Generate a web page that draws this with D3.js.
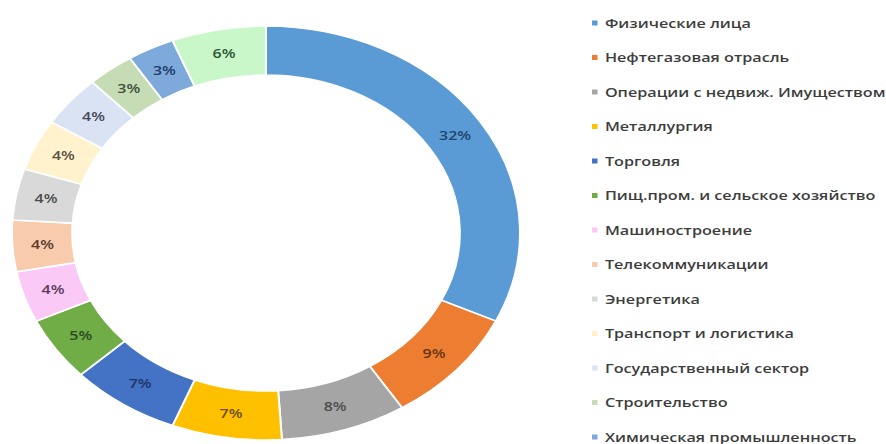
<!DOCTYPE html>
<html lang="ru">
<head>
  <meta charset="utf-8">
  <title>donut</title>
  <style>
  * { margin:0; padding:0; }
  body { background: #fff; }
  svg text { font-family: "Open Sans", Arial, sans-serif; }
  </style>
  <script src="https://d3js.org/d3.v7.min.js"></script>
</head>
<body>
  <div id="chart"></div>
  <script type="text/javascript">
    // the last slice (6%) has no legend row visible in the picture
    var sectors = ["Физические лица", "Нефтегазовая отрасль", "Операции с недвиж. Имуществом",
      "Металлургия", "Торговля", "Пищ.пром. и сельское хозяйство", "Машиностроение",
      "Телекоммуникации", "Энергетика", "Транспорт и логистика", "Государственный сектор",
      "Строительство", "Химическая промышленность", ""];
    var shares = [32, 9, 8, 7, 7, 5, 4, 4, 4, 4, 4, 3, 3, 6];
    var colours = ["#5b9bd5", "#ed7d31", "#a5a5a5", "#ffc000", "#4472c4", "#70ad47", "#fbc9f6",
      "#f8cbad", "#d9d9d9", "#fff2cc", "#dae3f3", "#c5dcb5", "#7eaadb", "#c9f7c9"];
    var labelColours = ["#22466e", "#6a3416", "#4d4d4d", "#6b4f00", "#1c3566", "#2c4a1e", "#5a3d5a",
      "#5a3a2c", "#4d4d4d", "#5a5244", "#444b5e", "#3f4f3a", "#1f3c66", "#2f5533"];

    var width = 886, height = 444;
    var sx = 1.227; // picture is stretched sideways
    var rOuter = 207, rInner = 158;

    var svg = d3.select("#chart").append("svg")
      .attr("width", width)
      .attr("height", height);

    var data = sectors.map(function(d, i) {
      return {name: d, value: shares[i], c: colours[i], lc: labelColours[i]};
    });

    var pie = d3.pie().sort(null).value(function(d) { return d.value; });
    var arc = d3.arc().innerRadius(rInner).outerRadius(rOuter);

    var donut = svg.append("g")
      .attr("transform", "translate(266,233) scale(" + sx + ",1)");

    var slices = donut.selectAll("g.slice").data(pie(data)).join("g").attr("class", "slice");
    slices.append("path")
      .attr("d", arc)
      .style("fill", function(d) { return d.data.c; })
      .style("stroke", "#fff")
      .style("stroke-width", 1.6);
    slices.append("text")
      .attr("transform", function(d) { return "translate(" + arc.centroid(d) + ")"; })
      .attr("text-anchor", "middle")
      .attr("dy", "0.35em")
      .style("font-size", "13px")
      .style("font-weight", 600)
      .style("fill", function(d) { return d.data.lc; })
      .text(function(d) { return d.data.value + "%"; });

    // legend
    var legend = svg.append("g")
      .attr("transform", "scale(" + sx + ",1)");
    var rows = legend.selectAll("g.row").data(data.filter(function(d) { return d.name != ""; })).join("g")
      .attr("class", "row")
      .attr("transform", function(d, i) { return "translate(" + (592 / sx) + "," + (23 + i * 34.5) + ")"; });
    rows.append("rect")
      .attr("x", 0).attr("y", -2.5)
      .attr("width", 4.5).attr("height", 5)
      .style("fill", function(d) { return d.c; });
    rows.append("text")
      .attr("x", 10.5)
      .attr("dy", "0.35em")
      .style("font-size", "13.2px")
      .style("font-weight", 600)
      .style("fill", "#3d3d3d")
      .text(function(d) { return d.name; });
  </script>
</body>
</html>
